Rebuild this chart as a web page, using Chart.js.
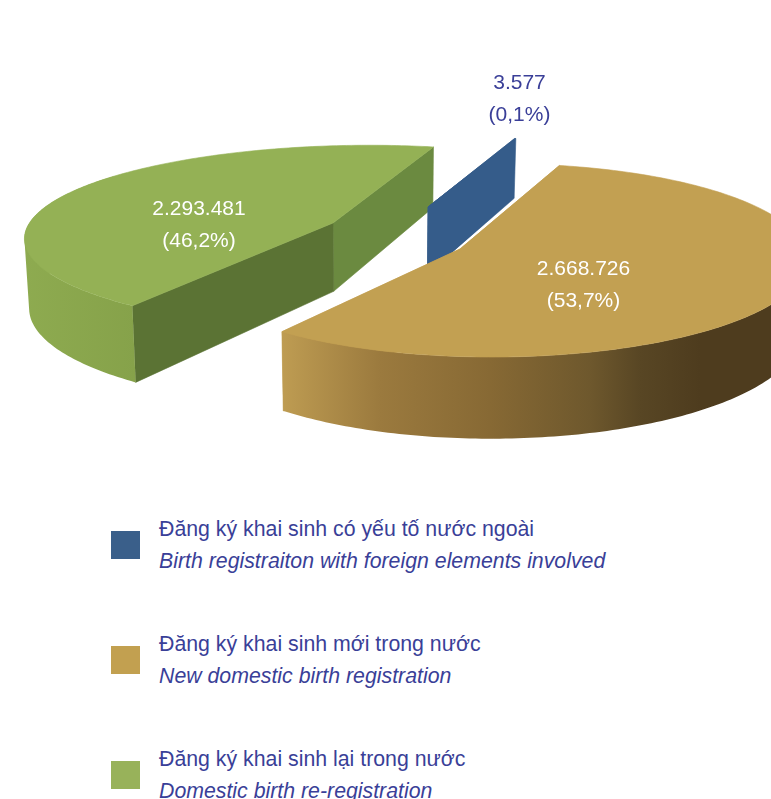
<!DOCTYPE html>
<html lang="vi">
<head>
<meta charset="utf-8">
<title>Đăng ký khai sinh</title>
<script src="https://cdn.jsdelivr.net/npm/chart.js@4"></script>
<style>
  html, body { margin: 0; padding: 0; background: #fff; }
  body { position: relative; width: 771px; height: 799px; overflow: hidden; font-family: "Liberation Sans", Arial, sans-serif; }
  #grafico { position: absolute; left: 0; top: 0; }
  .fila { position: absolute; left: 111px; height: 62px; }
  .cuadro { position: absolute; left: 0; top: 16px; width: 29px; height: 28px; }
  .linea { position: absolute; left: 48px; white-space: nowrap; font-size: 21.3px; line-height: 31px; color: #3a3f98; }
  .linea.en { top: 31px; font-style: italic; }
  .linea.vi { top: -1px; }
</style>
</head>
<body>
<canvas id="grafico" width="771" height="480"></canvas>
<div id="leyenda"></div>
<script>
// --- datos ---
const categorias = [
  "Đăng ký khai sinh có yếu tố nước ngoài",
  "Đăng ký khai sinh mới trong nước",
  "Đăng ký khai sinh lại trong nước",
];
const categoriasEn = [
  "Birth registraiton with foreign elements involved",
  "New domestic birth registration",
  "Domestic birth re-registration",
];
const valores = [3577, 2668726, 2293481];
const porcentajes = [0.1, 53.7, 46.2];

// --- estilos ---
const colores = ["#355c8a", "#c2a052", "#94b155"];
const coloresLeyenda = ["#3a5f8a", "#c2a050", "#98b25a"];
const coloresEtiqueta = ["#3a3f98", "#ffffff", "#ffffff"];

// separación de cada porción y forma de su elipse en pantalla
const vistas = [
  { dx: 42.5, dy: -33, sx: 1.23, sy: 0.354, r: 0, p: 0.15, muroDesde: 0, corte: ["#355c8a", "#355c8a"], muro: [[0, "#355c8a"], [771, "#355c8a"]] },
  {
    dx: 74.5, dy: 9, sx: 1.29, sy: 0.4, r: 0.115, p: 0.12, muroDesde: -0.2,
    corte: ["#c2a052", "#c2a052"],
    muro: [[282, "#be9c52"], [380, "#9b7a3e"], [490, "#876934"], [590, "#6e582d"], [640, "#584624"], [700, "#4e3c1e"], [771, "#4e3c1e"]],
  },
  {
    dx: -52.5, dy: -17, sx: 1.39, sy: 0.383, r: 0.09, p: 0.16, muroDesde: -0.6,
    corte: ["#6b8a40", "#5b7334"],
    muro: [[20, "#8eab50"], [135, "#86a24a"]],
  },
];
// centro de cada etiqueta respecto al centro del pastel
const etiquetas = [
  { dx: 134, dy: -141 },
  { dx: 198, dy: 45 },
  { dx: -186.5, dy: -15 },
];
const ALTO = 70;
const PASO = Math.PI / 180;

function punto(vista, arc, ang) {
  const c = Math.cos(ang);
  const s = Math.sin(ang);
  const f = 1 + vista.r * c + vista.p * s;
  return {
    x: arc.x + vista.dx + arc.outerRadius * vista.sx * c * f,
    y: arc.y + vista.dy + arc.outerRadius * vista.sy * s * f,
  };
}

// la base queda más baja y algo hacia el centro por la perspectiva
function abajo(p, arc) {
  return {
    x: p.x + (arc.x - p.x) * 0.013,
    y: p.y + ALTO * (1 + (p.y - arc.y) / 700),
  };
}

function trazar(ctx, pts) {
  pts.forEach((p, i) => (i ? ctx.lineTo(p.x, p.y) : ctx.moveTo(p.x, p.y)));
  ctx.closePath();
}

function poligono(ctx, pts, color) {
  ctx.beginPath();
  trazar(ctx, pts);
  ctx.fillStyle = color;
  ctx.strokeStyle = color;
  ctx.lineWidth = 0.6;
  ctx.fill();
  ctx.stroke();
}

// área con signo, para que todos los tramos giren igual al rellenarlos juntos
function area(pts) {
  return pts.reduce((acc, p, i) => {
    const q = pts[(i + 1) % pts.length];
    return acc + p.x * q.y - q.x * p.y;
  }, 0);
}

function dibujarPorcion(ctx, arc, i) {
  const vista = vistas[i];
  const centro = { x: arc.x + vista.dx, y: arc.y + vista.dy };
  const ini = punto(vista, arc, arc.startAngle);
  const fin = punto(vista, arc, arc.endAngle);

  // caras del corte
  poligono(ctx, [centro, fin, abajo(fin, arc), abajo(centro, arc)], vista.corte[0]);
  poligono(ctx, [centro, ini, abajo(ini, arc), abajo(centro, arc)], vista.corte[1]);

  // muro exterior, lo de atrás queda tapado por la cara superior
  const degradado = ctx.createLinearGradient(0, 0, 771, 0);
  vista.muro.forEach(([x, color]) => degradado.addColorStop(x / 771, color));
  ctx.beginPath();
  for (let a = arc.startAngle; a < arc.endAngle; a += PASO) {
    const b = Math.min(a + PASO, arc.endAngle);
    if (Math.sin(a) < vista.muroDesde) continue;
    const p0 = punto(vista, arc, a);
    const p1 = punto(vista, arc, b);
    const tramo = [p0, p1, abajo(p1, arc), abajo(p0, arc)];
    trazar(ctx, area(tramo) < 0 ? tramo.reverse() : tramo);
  }
  ctx.fillStyle = degradado;
  ctx.fill();

  // cara superior
  const borde = [centro];
  for (let a = arc.startAngle; a < arc.endAngle; a += PASO) borde.push(punto(vista, arc, a));
  borde.push(fin);
  poligono(ctx, borde, colores[i]);
}

const pastel3d = {
  id: "pastel3d",
  beforeDatasetDraw(chart, args) {
    const ctx = chart.ctx;
    const arcos = args.meta.data;
    // orden de pintado: de atrás hacia adelante
    [2, 0, 1].forEach((i) => dibujarPorcion(ctx, arcos[i], i));
    return false;
  },
  afterDraw(chart) {
    const ctx = chart.ctx;
    const arcos = chart.getDatasetMeta(0).data;
    ctx.font = '21px "Liberation Sans", Arial, sans-serif';
    ctx.textAlign = "center";
    ctx.textBaseline = "middle";
    valores.forEach((v, i) => {
      const x = arcos[i].x + etiquetas[i].dx;
      const y = arcos[i].y + etiquetas[i].dy;
      ctx.fillStyle = coloresEtiqueta[i];
      ctx.fillText(String(v).replace(/\B(?=(\d{3})+$)/g, "."), x, y - 16);
      ctx.fillText(`(${String(porcentajes[i]).replace(".", ",")}%)`, x, y + 16);
    });
  },
};

new Chart(document.getElementById("grafico"), {
  type: "pie",
  data: {
    labels: categorias,
    datasets: [{ data: valores, backgroundColor: colores, borderWidth: 0 }],
  },
  options: {
    responsive: false,
    animation: false,
    rotation: 20,
    plugins: { legend: { display: false }, tooltip: { enabled: false } },
  },
  plugins: [pastel3d],
});

// leyenda en dos idiomas
const leyenda = document.getElementById("leyenda");
categorias.forEach((nombre, i) => {
  const fila = document.createElement("div");
  fila.className = "fila";
  fila.style.top = 515 + i * 115 + "px";
  fila.innerHTML =
    `<div class="cuadro" style="background:${coloresLeyenda[i]}"></div>` +
    `<div class="linea vi">${nombre}</div>` +
    `<div class="linea en">${categoriasEn[i]}</div>`;
  leyenda.appendChild(fila);
});
</script>
</body>
</html>
